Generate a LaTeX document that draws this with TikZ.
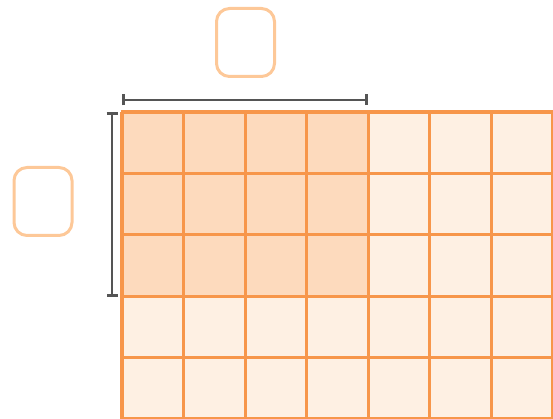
\documentclass[tikz,border=0pt]{standalone}
\definecolor{gridOrange}{RGB}{247, 150, 74}
\definecolor{cellDark}{RGB}{253, 218, 189}
\definecolor{cellLight}{RGB}{254, 240, 227}
\definecolor{boxOrange}{RGB}{253, 200, 152}
\definecolor{dimGray}{RGB}{85, 85, 85}
\usepackage{tikz}
\usetikzlibrary{positioning, calc, arrows.meta}

\begin{document}
\begin{tikzpicture}[
    x=1pt, y=-1pt,
    labelbox/.style={rectangle, draw=boxOrange, line width=3pt,
                     minimum width=58pt, minimum height=68pt,
                     rounded corners=13pt, fill=white},
    dimline/.style={draw=dimGray, line width=2.8pt,
                    {Bar[width=11pt,line width=2.8pt]}-{Bar[width=11pt,line width=2.8pt]}},
    gridline/.style={draw=gridOrange, line width=3.2pt},
  ]
    \useasboundingbox (0,0) rectangle (553,419);

    % cells
    \fill[cellLight] (122,112) rectangle (553,419);
    \fill[cellDark] (122,112) rectangle (368,297);

    % grid
    \foreach \i in {0,...,7} {
      \draw[gridline] ({122+61.57*\i},112) -- ({122+61.57*\i},420);
    }
    \foreach \j in {0,...,5} {
      \draw[gridline] (120.5,{112+61.4*\j}) -- (554,{112+61.4*\j});
    }

    % dimensions
    \coordinate (W0) at (122,100);
    \coordinate (W1) at (368,100);
    \coordinate (H0) at (112,112);
    \coordinate (H1) at (112,297);
    \draw[dimline] (W0) -- (W1);
    \draw[dimline] (H0) -- (H1);

    % labels
    \node[labelbox] (width) at (245.5,42.5) {};
    \node[labelbox] (height) at (43,201.5) {};
  \end{tikzpicture}
\end{document}
